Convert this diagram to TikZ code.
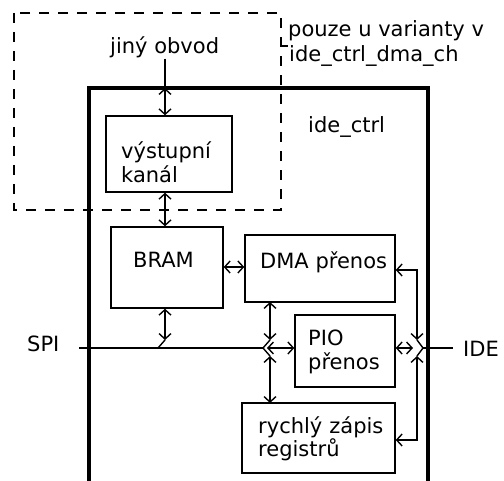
\documentclass[tikz,border=0pt]{standalone}
\usepackage{fontspec}
\setmainfont{DejaVu Sans}
\usetikzlibrary{arrows.meta, positioning}

\begin{document}
\begin{tikzpicture}[x=1pt, y=-1pt, font=\fontsize{21}{23.5}\selectfont,
    blk/.style={rectangle, draw, line width=1.4pt, inner sep=0pt},
    txt/.style={inner sep=0pt, anchor=base west},
    txt2/.style={txt, text width=130pt, align=left},
    wire/.style={line width=1.4pt},
    dbl/.style={wire, {Straight Barb[length=5.5pt, width=12pt]}-{Straight Barb[length=5.5pt, width=12pt]}},
]
\useasboundingbox (0,0) rectangle (504,481);

% varianta s vystupnim kanalem
\draw[line width=1.4pt, dash pattern=on 10pt off 9pt] (14,13) rectangle (281,210);
\draw[wire] (281,46) -- (288,46);
\node[txt] (varA) at (288,37) {pouze u varianty v};
\node[txt] (varB) at (289,62) {ide\_ctrl\_dma\_ch};

% ide_ctrl
\draw[line width=3.5pt] (89,486) |- (428,88) -- (428,486);
\node[txt] (ctrl) at (308,133) {ide\_ctrl};

\node[txt] (jiny) at (110,54) {jiný obvod};

\node[blk, minimum width=126pt, minimum height=76pt] (vyst) at (169,154) {};
\node[txt2] (vystT) at (121,159) {výstupní\\kanál};

\node[blk, minimum width=112pt, minimum height=81pt] (bram) at (167,267.5) {};
\node[txt] (bramT) at (133,268) {BRAM};

\node[blk, minimum width=150pt, minimum height=67pt] (dma) at (320,268.5) {};
\node[txt] (dmaT) at (260,269) {DMA přenos};

\node[blk, minimum width=100pt, minimum height=72pt] (pio) at (345,351) {};
\node[txt2] (pioT) at (308,346) {PIO\\přenos};

\node[blk, minimum width=153pt, minimum height=70pt] (rych) at (318.5,438) {};
\node[txt2] (rychT) at (258,433) {rychlý zápis\\registrů};

\node[txt] (spi) at (27,352) {SPI};
\node[txt] (ide) at (463,357) {IDE};

% sbernice
\coordinate (topin) at (165,88);
\coordinate (spiL) at (79,348);
\coordinate (spiR) at (263,348);
\coordinate (ideL) at (423,348);
\coordinate (ideR) at (453,348);

\draw[wire] (spiL) -- (spiR);
\draw[wire] (ideL) -- (ideR);

\draw[wire] (jiny.south -| topin) -- (topin);
\draw[dbl] (topin) -- (topin |- vyst.north);
\draw[dbl] (topin |- vyst.south) -- (topin |- bram.north);
\draw[dbl] (bram.east |- 0,267) -- (dma.west |- 0,267);

\draw[dbl] (topin |- bram.south) -- (165,340);
\draw[wire] (165,340) -- (158,348);

\draw[dbl] (270,302) -- (270,340);
\draw[wire] (270,340) -- (spiR);
\draw[dbl] (270,403) -- (270,356);
\draw[wire] (270,356) -- (spiR);
\draw[dbl] (267,348) -- (pio.west |- 0,348);

\draw[dbl] (dma.east |- 0,270) -| (417,340);
\draw[wire] (417,340) -- (ideL);
\draw[dbl] (rych.east |- 0,440) -| (417,356);
\draw[wire] (417,356) -- (ideL);
\draw[dbl] (pio.east |- 0,348) -- (413,348);

\end{tikzpicture}
\end{document}
